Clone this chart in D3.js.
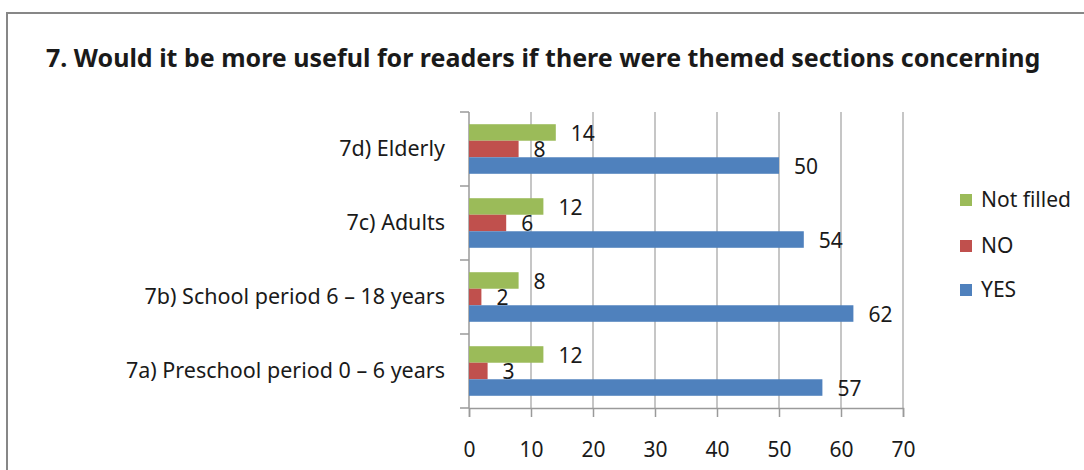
<!DOCTYPE html>
<html>
<head>
<meta charset="utf-8">
<script src="https://cdn.jsdelivr.net/npm/d3@7"></script>
<style>
  body { margin: 0; background: #fff; }
  text { font-family: "Noto Sans", "Open Sans", sans-serif; fill: #1a1a1a; }
</style>
</head>
<body>
<div id="chart"></div>
<script>
// categories top to bottom
var categories = ["7d) Elderly", "7c) Adults", "7b) School period 6 \u2013 18 years", "7a) Preschool period 0 \u2013 6 years"];
var seriesNames = ["Not filled", "NO", "YES"];
var notFilled = [14, 12, 8, 12];
var no = [8, 6, 2, 3];
var yes = [50, 54, 62, 57];
var colors = ["#9BBB59", "#C0504D", "#4F81BD"];
var ticks = [0, 10, 20, 30, 40, 50, 60, 70];

var w = 1084, h = 470,
    p = {"top": 112, "left": 469, "right": 903, "bot": 408};

var svg = d3.select("#chart").append("svg")
  .attr("width", w)
  .attr("height", h)

// outer frame
svg.append("rect")
  .attr("x", 7).attr("y", 13)
  .attr("width", 1200).attr("height", 600)
  .attr("fill", "none")
  .attr("stroke", "#878787")
  .attr("stroke-width", 2)

svg.append("text")
  .attr("x", 46)
  .attr("y", 67)
  .style("font-size", "25px")
  .style("font-weight", "bold")
  .text("7. Would it be more useful for readers if there were themed sections concerning")

var x = d3.scaleLinear().domain([0, 70]).range([p.left, p.right])
var y = d3.scaleBand().domain(categories).range([p.top, p.bot]).paddingInner(0.33).paddingOuter(0.165)
var ySub = d3.scaleBand().domain(seriesNames).range([0, y.bandwidth()])

// gridlines
svg.append("g")
  .selectAll("line")
  .data(ticks.slice(1))
  .enter().append("line")
    .attr("x1", function(d){ return x(d) })
    .attr("x2", function(d){ return x(d) })
    .attr("y1", p.top)
    .attr("y2", p.bot)
    .attr("stroke", "#b3b3b3")
    .attr("stroke-width", 1.5)

var xAxis = d3.axisBottom(x).tickValues(ticks).tickSize(9).tickPadding(25);
var gx = svg.append("g")
  .attr("transform", "translate(0," + p.bot + ")")
  .call(xAxis)
gx.select(".domain").attr("stroke", "#9a9a9a").attr("stroke-width", 1.5)
gx.selectAll("line").attr("stroke", "#9a9a9a").attr("stroke-width", 1.5)
gx.selectAll("text").style("font-size", "21px").attr("fill", "#1a1a1a")

// y axis line with ticks on band boundaries
var step = (p.bot - p.top) / categories.length;
var bounds = d3.range(categories.length + 1).map(function(i){ return p.top + i * step });
svg.append("line")
  .attr("x1", p.left).attr("x2", p.left)
  .attr("y1", p.top).attr("y2", p.bot)
  .attr("stroke", "#9a9a9a").attr("stroke-width", 1.5)
svg.append("g").selectAll("line")
  .data(bounds)
  .enter().append("line")
    .attr("x1", p.left - 9).attr("x2", p.left)
    .attr("y1", function(d){ return d }).attr("y2", function(d){ return d })
    .attr("stroke", "#9a9a9a").attr("stroke-width", 1.5)

svg.append("g").selectAll("text")
  .data(categories)
  .enter().append("text")
    .attr("x", 445)
    .attr("y", function(d){ return y(d) + y.bandwidth() / 2 - 1 })
    .attr("dy", "0.35em")
    .style("text-anchor", "end")
    .style("font-size", "21.5px")
    .text(function(d){ return d })

var series = [notFilled, no, yes];
series.forEach(function(vals, s){
  var g = svg.append("g")
  g.selectAll("rect")
    .data(vals)
    .enter().append("rect")
      .attr("x", x(0))
      .attr("y", function(d, i){ return y(categories[i]) + ySub(seriesNames[s]) })
      .attr("width", function(d){ return x(d) - x(0) })
      .attr("height", ySub.bandwidth())
      .attr("fill", colors[s])
  g.selectAll("text")
    .data(vals)
    .enter().append("text")
      .attr("x", function(d){ return x(d) + 15 })
      .attr("y", function(d, i){ return y(categories[i]) + ySub(seriesNames[s]) + ySub.bandwidth() / 2 + 1 })
      .attr("dy", "0.35em")
      .style("font-size", "21px")
      .text(function(d){ return d })
})

// legend
var legY = [200, 246, 290];
var leg = svg.append("g").selectAll("g")
  .data(seriesNames)
  .enter().append("g")
    .attr("transform", function(d, i){ return "translate(960," + legY[i] + ")" })
leg.append("rect")
  .attr("x", 0).attr("y", -6)
  .attr("width", 12).attr("height", 12)
  .attr("fill", function(d, i){ return colors[i] })
leg.append("text")
  .attr("x", 21)
  .attr("dy", "0.35em")
  .style("font-size", "21px")
  .text(function(d){ return d })
</script>
</body>
</html>
